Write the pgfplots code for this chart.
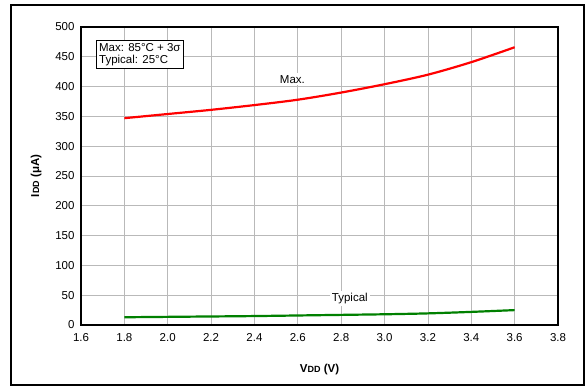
\documentclass[border=0pt]{standalone}
\usepackage{fontspec}
\setmainfont{Liberation Sans}
\usepackage{pgfplots}
\pgfplotsset{compat=1.18}
\definecolor{plotgreen}{RGB}{0,128,0}
\begin{document}
\begin{tikzpicture}
\begin{axis}[
  width=477pt, height=298pt, scale only axis,
  xmin=1.6, xmax=3.8, ymin=0, ymax=500,
  xtick={1.6,1.8,...,3.81}, ytick={0,50,...,500},
  xticklabel style={yshift=-5pt, /pgf/number format/fixed, /pgf/number format/fixed zerofill, /pgf/number format/precision=1},
  /pgf/number format/assume math mode=true,
  tick label style={font=\fontsize{11.5}{13}\selectfont},
  yticklabel style={xshift=-3pt},
  major tick length=0pt,
  grid=major, grid style={gray!55, line width=0.8pt},
  axis line style={black, line width=1.6pt},
  xlabel={\bfseries V\fontsize{9}{10}\selectfont DD\fontsize{11.5}{13}\selectfont{} (V)},
  ylabel={\bfseries I\fontsize{9}{10}\selectfont DD\fontsize{11.5}{13}\selectfont{} (μA)},
  label style={font=\fontsize{11.5}{13}\selectfont},
  xlabel style={yshift=-16pt},
  ylabel style={yshift=7pt},
  clip=false,
]
\addplot[red, line width=2.2pt, smooth] coordinates {
 (1.8,347) (2.0,354) (2.2,361) (2.4,369) (2.6,378) (2.8,390) (3.0,404) (3.2,420) (3.4,441) (3.6,466)};
\addplot[plotgreen, line width=2.2pt, smooth] coordinates {
 (1.8,13) (2.1,14) (2.4,15) (2.7,16.5) (3.0,18) (3.2,19.5) (3.4,22) (3.6,25)};
\node[fill=white, inner sep=2pt, font=\fontsize{11.5}{13}\selectfont] at (axis cs:2.575,412) {Max.};
\node[fill=white, inner sep=2pt, font=\fontsize{11.5}{13}\selectfont] at (axis cs:2.84,45) {Typical};
\node[draw=black, line width=0.9pt, fill=white, align=left, anchor=north west, inner sep=2.5pt, font=\fontsize{11.5}{12.5}\selectfont] at (axis cs:1.67,478) {Max: 85°C + 3σ\\Typical: 25°C};
\draw[black, line width=1.5pt] (rel axis cs:-0.1468,-0.2013) rectangle (rel axis cs:1.0545,1.0738);
\path (rel axis cs:-0.1698,-0.2114) rectangle (rel axis cs:1.0587,1.0906);
\end{axis}
\end{tikzpicture}
\end{document}
